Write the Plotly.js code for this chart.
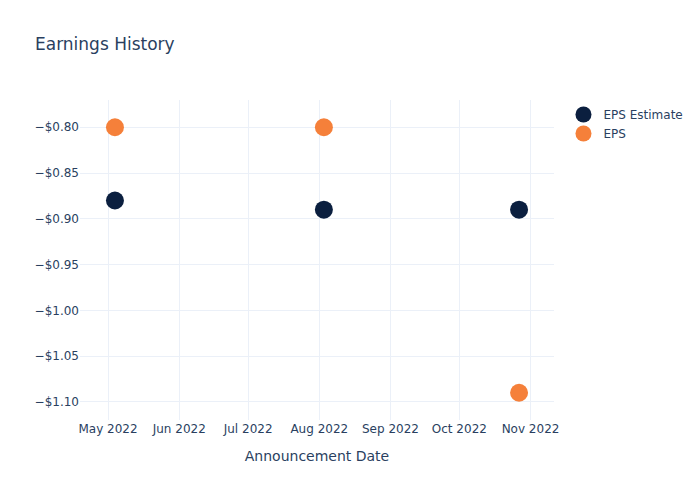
<!DOCTYPE html>
<html>
<head>
<meta charset="utf-8">
<script src="https://cdn.plot.ly/plotly-3.0.1.min.js"></script>
<style>html,body{margin:0;padding:0;}</style>
</head>
<body>
<div id="chart" style="width:700px;height:500px;"></div>
<script>
const dates = ["2022-05-04", "2022-08-03", "2022-10-27"];
const epsEstimate = [-0.88, -0.89, -0.89];
const eps = [-0.80, -0.80, -1.09];

const data = [
  {x: dates, y: epsEstimate, mode: "markers", type: "scatter", name: "EPS Estimate",
   marker: {color: "#0b1f3f", size: 18}},
  {x: dates, y: eps, mode: "markers", type: "scatter", name: "EPS",
   marker: {color: "#f5803a", size: 18}}
];
const layout = {
  width: 700, height: 500,
  template: "plotly_white",
  title: {text: "Earnings History", x: 0.05, xanchor: "left", font: {size: 17}},
  xaxis: {title: {text: "Announcement Date", standoff: 16}, type: "date", gridcolor: "#EBF0F8", zeroline: false},
  yaxis: {tickformat: "$.2f", gridcolor: "#EBF0F8", zeroline: false},
  plot_bgcolor: "white", paper_bgcolor: "white",
  font: {color: "#2a3f5f", family: "DejaVu Sans", size: 12},
  showlegend: true
};
Plotly.newPlot("chart", data, layout, {displayModeBar: false});
</script>
</body>
</html>
